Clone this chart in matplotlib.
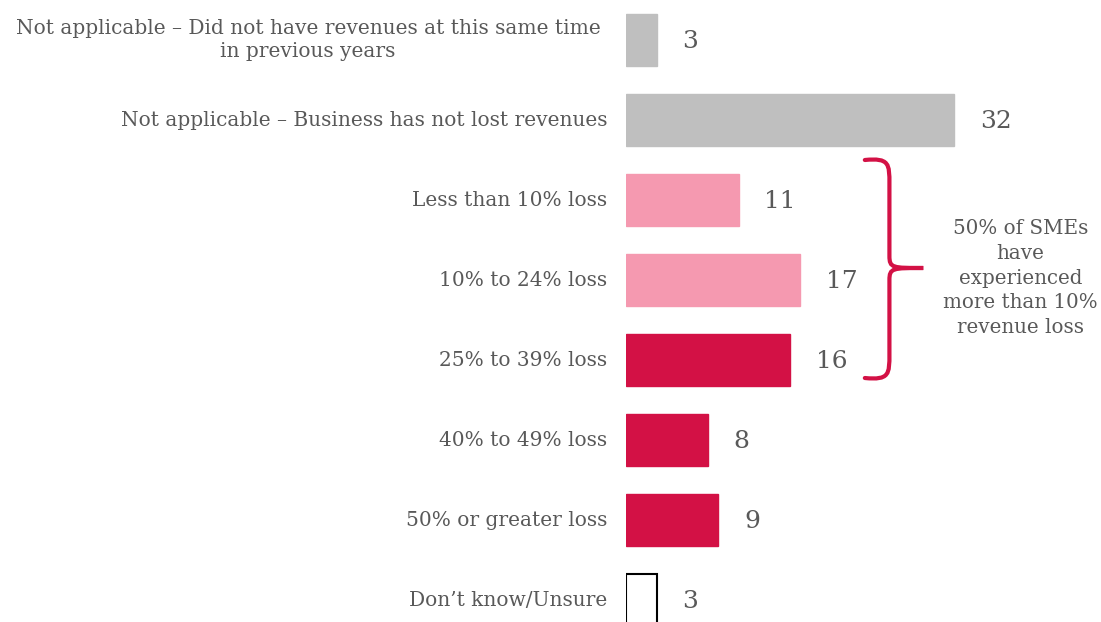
import matplotlib.pyplot as plt
from matplotlib.path import Path
from matplotlib.patches import PathPatch

categories = [
    "Not applicable \u2013 Did not have revenues at this same time\nin previous years",
    "Not applicable \u2013 Business has not lost revenues",
    "Less than 10% loss",
    "10% to 24% loss",
    "25% to 39% loss",
    "40% to 49% loss",
    "50% or greater loss",
    "Don\u2019t know/Unsure",
]
values = [3, 32, 11, 17, 16, 8, 9, 3]
colors = ["#bfbfbf", "#bfbfbf", "#f599b0", "#f599b0",
          "#d31145", "#d31145", "#d31145", "white"]
note = "50% of SMEs\nhave\nexperienced\nmore than 10%\nrevenue loss"

GREY = "#595959"
RED = "#d31145"

fig = plt.figure(figsize=(11.01, 6.22), dpi=100)
ax = fig.add_axes([626 / 1101, 0, 1 - 626 / 1101, 1])

y = range(len(values))
bars = ax.barh(y, values, height=0.66, color=colors, edgecolor=colors)
bars[-1].set_edgecolor("black")
bars[-1].set_linewidth(1.5)

ax.set_xlim(0, 475 / 10.25)
ax.set_ylim(7.275, -0.5)
ax.axis("off")

for i, (cat, v) in enumerate(zip(categories, values)):
    xoff = -2.5 if "\n" in cat else -1.85
    ax.text(xoff, i, cat, ha="right", ma="center", va="center",
            fontsize=14.5, color=GREY, family="DejaVu Serif",
            linespacing=1.3)
    ax.text(v + 2.5, i + 0.02, str(v), ha="left", va="center", fontsize=18,
            color=GREY, family="DejaVu Serif")

# curly bracket grouping the middle three bars
top, mid, bot = 1.5, 2.85, 4.225
xl, xv, xt = 23.3, 25.7, 29.0
verts = [
    (xl, top), (xv, top - 0.03), (xv, top + 0.05), (xv, top + 0.3),
    (xv, mid - 0.15),
    (xv, mid), (xv + 0.3, mid), (xt, mid),
    (xv + 0.3, mid), (xv, mid), (xv, mid + 0.15),
    (xv, bot - 0.3),
    (xv, bot - 0.05), (xv, bot + 0.03), (xl, bot),
]
codes = [Path.MOVETO, Path.CURVE4, Path.CURVE4, Path.CURVE4,
         Path.LINETO,
         Path.CURVE4, Path.CURVE4, Path.CURVE4,
         Path.CURVE4, Path.CURVE4, Path.CURVE4,
         Path.LINETO,
         Path.CURVE4, Path.CURVE4, Path.CURVE4]
ax.add_patch(PathPatch(Path(verts, codes), facecolor="none",
                       edgecolor=RED, linewidth=3.0, capstyle="round"))

ax.text(38.5, 2.975, note, ha="center", va="center", fontsize=14.3,
        color=GREY, family="DejaVu Serif", linespacing=1.38)

fig.savefig("out.png", dpi=100)
